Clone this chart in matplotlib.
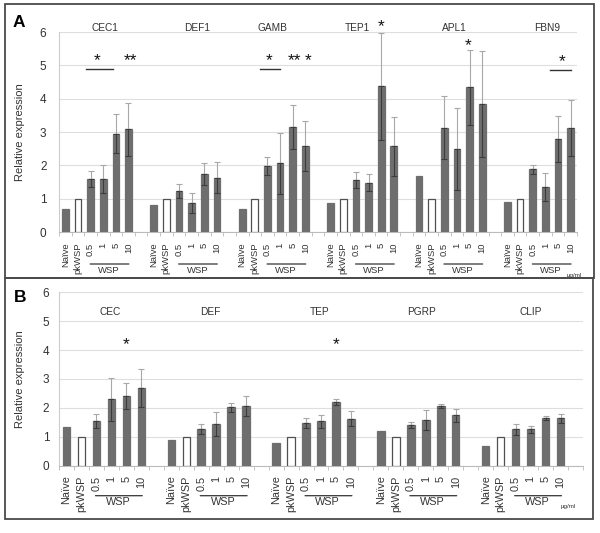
import matplotlib
matplotlib.use("Agg")
import matplotlib.pyplot as plt
from matplotlib.patches import Rectangle
import numpy as np

plt.rcParams['font.family'] = ['Liberation Sans', 'DejaVu Sans']

conditions = ['Naïve', 'pkWSP', '0.5', '1', '5', '10']

# Panel A
genes_A = ['CEC1', 'DEF1', 'GAMB', 'TEP1', 'APL1', 'FBN9']
cec1 = [0.68, 1.0, 1.59, 1.59, 2.95, 3.08]
cec1_err = [0, 0, 0.24, 0.41, 0.58, 0.80]
def1 = [0.80, 1.0, 1.23, 0.88, 1.73, 1.63]
def1_err = [0, 0, 0.22, 0.30, 0.33, 0.46]
gamb = [0.68, 1.0, 1.98, 2.06, 3.15, 2.59]
gamb_err = [0, 0, 0.26, 0.92, 0.67, 0.75]
tep1 = [0.87, 1.0, 1.56, 1.48, 4.37, 2.57]
tep1_err = [0, 0, 0.25, 0.25, 1.61, 0.89]
apl1 = [1.68, 1.0, 3.13, 2.49, 4.34, 3.84]
apl1_err = [0, 0, 0.94, 1.22, 1.13, 1.59]
fbn9 = [0.91, 1.0, 1.88, 1.35, 2.80, 3.12]
fbn9_err = [0, 0, 0.14, 0.42, 0.69, 0.83]

# Panel B
genes_B = ['CEC', 'DEF', 'TEP', 'PGRP', 'CLIP']
cec = [1.33, 1.0, 1.55, 2.30, 2.41, 2.69]
cec_err = [0, 0, 0.24, 0.75, 0.45, 0.67]
defb = [0.90, 1.0, 1.27, 1.44, 2.02, 2.06]
defb_err = [0, 0, 0.16, 0.41, 0.15, 0.34]
tep = [0.80, 1.0, 1.48, 1.53, 2.20, 1.63]
tep_err = [0, 0, 0.17, 0.24, 0.10, 0.26]
pgrp = [1.19, 1.0, 1.41, 1.58, 2.06, 1.74]
pgrp_err = [0, 0, 0.09, 0.35, 0.07, 0.23]
clip = [0.69, 1.0, 1.26, 1.26, 1.66, 1.64]
clip_err = [0, 0, 0.20, 0.12, 0.07, 0.16]

# title offsets (in category slots, from group centre)
title_off_A = [0.67, 0.9, -0.1, -0.4, 0.3, 0.6]
title_off_B = [0.42, 0.1, 0.4, 0.2, 0.5]

# significance marks: (x in category slots, y, text)
sig_A = [(2.5, 5.13, '*'), (5.15, 5.13, '**'), (16.1, 5.13, '*'), (18.1, 5.13, '**'),
         (19.2, 5.13, '*'), (25.0, 6.15, '*'), (31.9, 5.6, '*'), (39.3, 5.11, '*')]
lines_A = [(1.6, 3.8, 4.88), (15.4, 17.0, 4.88), (38.4, 40.0, 4.86)]
sig_B = [(4.0, 4.2, '*'), (18.0, 4.2, '*')]

BAR = '#6e6e6e'
GRID = '#dedede'
TXT = '#333333'

fig = plt.figure(figsize=(6.0, 5.33), dpi=100)


def draw_panel(ax, genes, vals, errs, nslots, title_y, title_off, tick_fs,
               under_y, wsp_y, ylab_x, pad_x, pad_y, bw, unit_x):
    ax.set_xlim(-0.5, nslots - 0.5)
    ax.set_ylim(0, 6)
    for g, (v, e) in enumerate(zip(vals, errs)):
        x = np.arange(6) + g * 7
        colors = [BAR, 'white', BAR, BAR, BAR, BAR]
        edges = [BAR, '#505050', BAR, BAR, BAR, BAR]
        ax.bar(x, v, width=bw, color=colors, edgecolor=edges, linewidth=0.9, zorder=3)
        e = np.array(e, dtype=float)
        m = e > 0
        ax.errorbar(x[m], np.array(v)[m], yerr=[np.zeros(m.sum()), e[m]], fmt='none',
                    ecolor='#a8a8a8', elinewidth=0.8, capsize=2.2, capthick=0.8, zorder=4)
        ax.errorbar(x[m], np.array(v)[m], yerr=[e[m], np.zeros(m.sum())], fmt='none',
                    ecolor='#3c3c3c', elinewidth=0.8, capsize=2.2, capthick=0.8, zorder=4)
        ax.text(g * 7 + 2.5 + title_off[g], title_y, genes[g], ha='center', va='center',
                fontsize=7.3, color=TXT, clip_on=False)
        # WSP underline
        ax.annotate('', xy=(g * 7 + 1.75, under_y), xytext=(g * 7 + 5.25, under_y),
                    xycoords=('data', 'axes fraction'), textcoords=('data', 'axes fraction'),
                    arrowprops=dict(arrowstyle='-', color='#333333', lw=0.9))
        ax.text(g * 7 + 3.45, wsp_y, 'WSP', transform=ax.get_xaxis_transform(),
                ha='center', va='center', fontsize=tick_fs, color=TXT)
        if g == len(genes) - 1:
            ax.text(g * 7 + unit_x, wsp_y - 0.025, 'μg/ml', transform=ax.get_xaxis_transform(),
                    ha='left', va='center', fontsize=4.5, color=TXT)
    ticks = [g * 7 + i for g in range(len(genes)) for i in range(6)]
    ax.set_xticks(ticks)
    ax.set_xticklabels(conditions * len(genes), rotation=90, fontsize=tick_fs, color=TXT)
    ax.set_xticks(np.arange(-0.5, nslots, 1.0), minor=True)
    ax.tick_params(axis='x', which='major', length=0, pad=pad_x)
    ax.tick_params(axis='x', which='minor', length=3, color='#bbbbbb', width=0.6)
    ax.set_yticks(range(7))
    ax.tick_params(axis='y', length=0, labelsize=8.5, labelcolor=TXT, pad=pad_y)
    ax.grid(axis='y', color=GRID, linewidth=0.8, zorder=0)
    ax.set_axisbelow(True)
    for s in ['top', 'right']:
        ax.spines[s].set_visible(False)
    ax.spines['left'].set_color('#cccccc')
    ax.spines['bottom'].set_color('#bbbbbb')
    ax.spines['left'].set_linewidth(0.8)
    ax.spines['bottom'].set_linewidth(0.8)
    ax.set_ylabel('Relative expression', fontsize=8, color=TXT)
    ax.yaxis.set_label_coords(ylab_x, 0.5)


axA = fig.add_axes([59 / 600, 1 - 232 / 533, 518 / 600, 200 / 533])
draw_panel(axA, genes_A, [cec1, def1, gamb, tep1, apl1, fbn9],
           [cec1_err, def1_err, gamb_err, tep1_err, apl1_err, fbn9_err],
           41, 6.12, title_off_A, 6.8, -0.16, -0.19, -0.066, 7.5, 9, 0.53, 4.7)
for x, y, t in sig_A:
    axA.text(x, y, t, ha='center', va='center', fontsize=12.5, color='#111111', clip_on=False)
for x0, x1, y in lines_A:
    axA.plot([x0, x1], [y, y], color='#333333', lw=1.0, clip_on=False)

axB = fig.add_axes([59 / 600, 1 - 465.7 / 533, 524 / 600, 173.4 / 533])
draw_panel(axB, genes_B, [cec, defb, tep, pgrp, clip],
           [cec_err, defb_err, tep_err, pgrp_err, clip_err],
           35, 5.33, title_off_B, 7.8, -0.173, -0.21, -0.065, 7, 7, 0.5, 5.0)
for x, y, t in sig_B:
    axB.text(x, y, t, ha='center', va='center', fontsize=12.5, color='#111111')

# panel frames
fig.add_artist(Rectangle((5 / 600, 1 - 278 / 533), 589 / 600, 274 / 533, transform=fig.transFigure,
                         fill=False, edgecolor='#4a4a4a', linewidth=1.3))
fig.add_artist(Rectangle((5 / 600, 1 - 519 / 533), 588 / 600, 241 / 533, transform=fig.transFigure,
                         fill=False, edgecolor='#4a4a4a', linewidth=1.3))
fig.text(19 / 600, 1 - 22 / 533, 'A', fontsize=12.5, fontweight='bold', ha='center', va='center')
fig.text(20 / 600, 1 - 297.5 / 533, 'B', fontsize=12.5, fontweight='bold', ha='center', va='center')

fig.savefig('out.png', dpi=100)
